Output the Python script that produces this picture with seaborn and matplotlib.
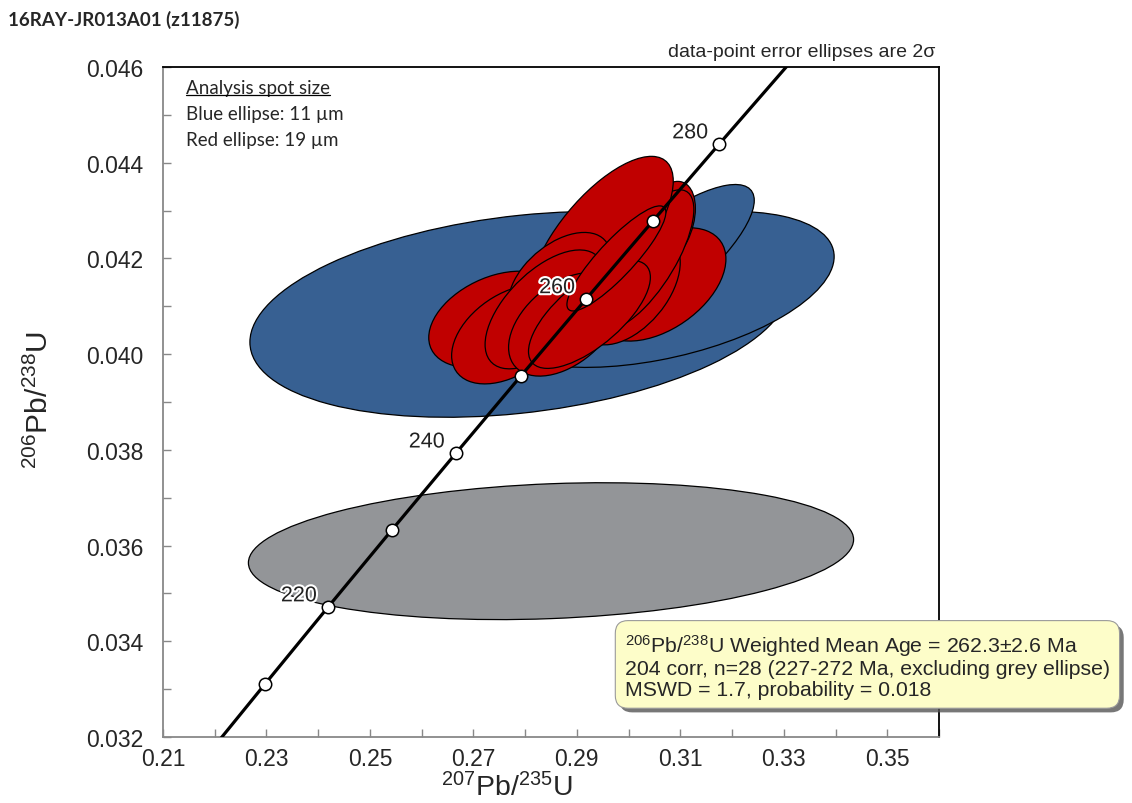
import numpy as np
import pandas as pd
import matplotlib
matplotlib.use("Agg")
import matplotlib.pyplot as plt
import matplotlib.patheffects as pe
import seaborn as sns
from matplotlib.patches import Ellipse
from matplotlib.transforms import Affine2D
from matplotlib.lines import Line2D

# concordia (ages in Ma)
conc_age = [200, 210, 220, 230, 240, 250, 260, 270, 280, 290]
conc_x = [0.21771, 0.22976, 0.24192, 0.25422, 0.26664, 0.27917, 0.29183, 0.30462, 0.31753, 0.33057]
conc_y = [0.031511, 0.033112, 0.034717, 0.036323, 0.037932, 0.039543, 0.041157, 0.042773, 0.044392, 0.046013]
marker_ages = [210, 220, 230, 240, 250, 260, 270, 280]
label_ages = [220, 240, 260, 280]

# error ellipses: centre, 2 sigma half widths, correlation
grey_cx, grey_cy, grey_sx, grey_sy, grey_rho = [0.28500], [0.035883], [0.05849], [0.00143], [0.17]

blue_cx = [0.27892, 0.30595, 0.30595]
blue_cy = [0.040831, 0.041353, 0.041875]
blue_sx = [0.05212, 0.03378, 0.01834]
blue_sy = [0.00215, 0.00163, 0.00167]
blue_rho = [0.27, 0.42, 0.80]

red_cx = [0.30595, 0.30015, 0.30749, 0.30305, 0.29475, 0.27409, 0.27699, 0.28664, 0.28375, 0.28761, 0.29243, 0.29764]
red_cy = [0.041457, 0.041353, 0.042710, 0.041979, 0.042438, 0.040727, 0.040413, 0.041562, 0.040935, 0.040622, 0.040831, 0.042000]
red_sx = [0.01286, 0.00983, 0.00542, 0.00956, 0.01388, 0.01272, 0.01120, 0.00988, 0.01149, 0.01081, 0.01178, 0.00956]
red_sy = [0.001184, 0.001159, 0.000900, 0.001455, 0.001695, 0.001006, 0.001035, 0.000981, 0.001242, 0.001081, 0.001129, 0.001098]
red_rho = [0.448, 0.485, 0.371, 0.717, 0.695, 0.378, 0.429, 0.486, 0.59, 0.446, 0.686, 0.876]

x_major = [0.21, 0.23, 0.25, 0.27, 0.29, 0.31, 0.33, 0.35]
x_minor = [0.22, 0.24, 0.26, 0.28, 0.30, 0.32, 0.34, 0.36]
y_major = [0.032, 0.034, 0.036, 0.038, 0.040, 0.042, 0.044, 0.046]
y_minor = [0.033, 0.035, 0.037, 0.039, 0.041, 0.043, 0.045]

sns.set_theme(style="white")
plt.rcParams["font.family"] = ["Liberation Sans", "DejaVu Sans"]
plt.rcParams["mathtext.fontset"] = "custom"
plt.rcParams["mathtext.rm"] = "Liberation Sans"
plt.rcParams["mathtext.it"] = "Liberation Sans:italic"
plt.rcParams["mathtext.bf"] = "Liberation Sans:bold"

fig = plt.figure(figsize=(11.32, 8.04), dpi=100)
ax = fig.add_axes([163 / 1132, 66 / 804, 776 / 1132, 670 / 804])


def draw_ellipses(cxs, cys, sxs, sys_, rhos, color, z):
    for cx, cy, sx, sy, r in zip(cxs, cys, sxs, sys_, rhos):
        m = np.array([[sx, 0, cx], [r * sy, sy * np.sqrt(1 - r * r), cy], [0, 0, 1]])
        e = Ellipse((0, 0), 2, 2, facecolor=color, edgecolor="black", linewidth=0.9,
                    transform=Affine2D(m) + ax.transData, zorder=z)
        ax.add_patch(e)


draw_ellipses(grey_cx, grey_cy, grey_sx, grey_sy, grey_rho, "#939598", 1)
draw_ellipses(blue_cx, blue_cy, blue_sx, blue_sy, blue_rho, "#376092", 1.5)
draw_ellipses(red_cx, red_cy, red_sx, red_sy, red_rho, "#C00000", 2)

conc = pd.DataFrame({"age": conc_age, "x": conc_x, "y": conc_y})
sns.lineplot(data=conc, x="x", y="y", ax=ax, color="black", linewidth=2.3,
             sort=False, zorder=3, legend=False)
marks = conc[conc["age"].isin(marker_ages)]
sns.scatterplot(data=marks, x="x", y="y", ax=ax, s=80, color="white",
                edgecolor="black", linewidth=1.1, zorder=4, legend=False)

halo = [pe.withStroke(linewidth=3, foreground="white")]
for _, row in conc[conc["age"].isin(label_ages)].iterrows():
    ax.annotate(str(int(row["age"])), (row["x"], row["y"]), xytext=(-8, 8),
                textcoords="offset points", ha="right", va="center",
                fontsize=15.5, color="#222222", path_effects=halo, zorder=5)

ax.set_xlim(0.21, 0.36)
ax.set_ylim(0.032, 0.046)
ax.set_xticks(x_major)
ax.set_xticks(x_minor, minor=True)
ax.set_yticks(y_major)
ax.set_yticks(y_minor, minor=True)
ax.set_xticklabels([f"{v:.2f}" for v in x_major])
ax.set_yticklabels([f"{v:.3f}" for v in y_major])
ax.tick_params(which="both", direction="in", length=6, width=1, color="#888888",
               labelsize=16.5, bottom=True, left=True, top=False, right=False)
ax.tick_params(axis="y", pad=14)
ax.tick_params(axis="x", pad=7)
ax.set_xlabel("")
ax.set_ylabel("")
for side in ["left", "bottom"]:
    ax.spines[side].set_color("#888888")
    ax.spines[side].set_linewidth(1.3)
for side in ["top", "right"]:
    ax.spines[side].set_color("black")
    ax.spines[side].set_linewidth(1.3)

fig.text(0.448, 0.010, r"$^{207}$Pb/$^{235}$U", ha="center", va="baseline", fontsize=20.5)
fig.text(0.035, 0.502, r"$^{206}$Pb/$^{238}$U", ha="center", va="center",
         fontsize=21.5, rotation=90)

fig.text(0.007, 0.975, "16RAY-JR013A01 (z11875)", ha="left", va="center",
         fontsize=13.5, fontweight="bold", family=["Lato", "DejaVu Sans"])
fig.text(0.826, 0.935, "data-point error ellipses are 2σ", ha="right",
         va="center", fontsize=14)

leg_font = ["Lato", "DejaVu Sans"]
t0 = ax.text(0.029, 0.970, "Analysis spot size", transform=ax.transAxes,
             ha="left", va="center", fontsize=13.5, family=leg_font, zorder=6)
ax.text(0.029, 0.930, "Blue ellipse: 11 µm", transform=ax.transAxes,
        ha="left", va="center", fontsize=13.5, family=leg_font, zorder=6)
ax.text(0.029, 0.892, "Red ellipse: 19 µm", transform=ax.transAxes,
        ha="left", va="center", fontsize=13.5, family=leg_font, zorder=6)

box_text = (r"$^{206}$Pb/$^{238}$U Weighted Mean Age = 262.3±2.6 Ma" "\n"
            "204 corr, n=28 (227-272 Ma, excluding grey ellipse)\n"
            "MSWD = 1.7, probability = 0.018")
bt = fig.text(0.552, 0.171, box_text, ha="left", va="center", fontsize=15.3,
              linespacing=1.08, zorder=10,
              bbox=dict(boxstyle="round,pad=0.45,rounding_size=0.6",
                        facecolor="#FDFDC9", edgecolor="#9a9a9a", linewidth=0.8))
bt.get_bbox_patch().set_path_effects(
    [pe.SimplePatchShadow(offset=(3, -3), shadow_rgbFace="#555555", alpha=0.8), pe.Normal()])

# underline the legend heading
fig.canvas.draw()
bb = t0.get_window_extent()
inv = fig.transFigure.inverted()
(x0, y0), (x1, _) = inv.transform([(bb.x0, bb.y0 + 1), (bb.x1, bb.y0 + 1)])
fig.add_artist(Line2D([x0, x1], [y0, y0], transform=fig.transFigure,
                      color="black", linewidth=0.9))

fig.savefig("out.png", dpi=100)
